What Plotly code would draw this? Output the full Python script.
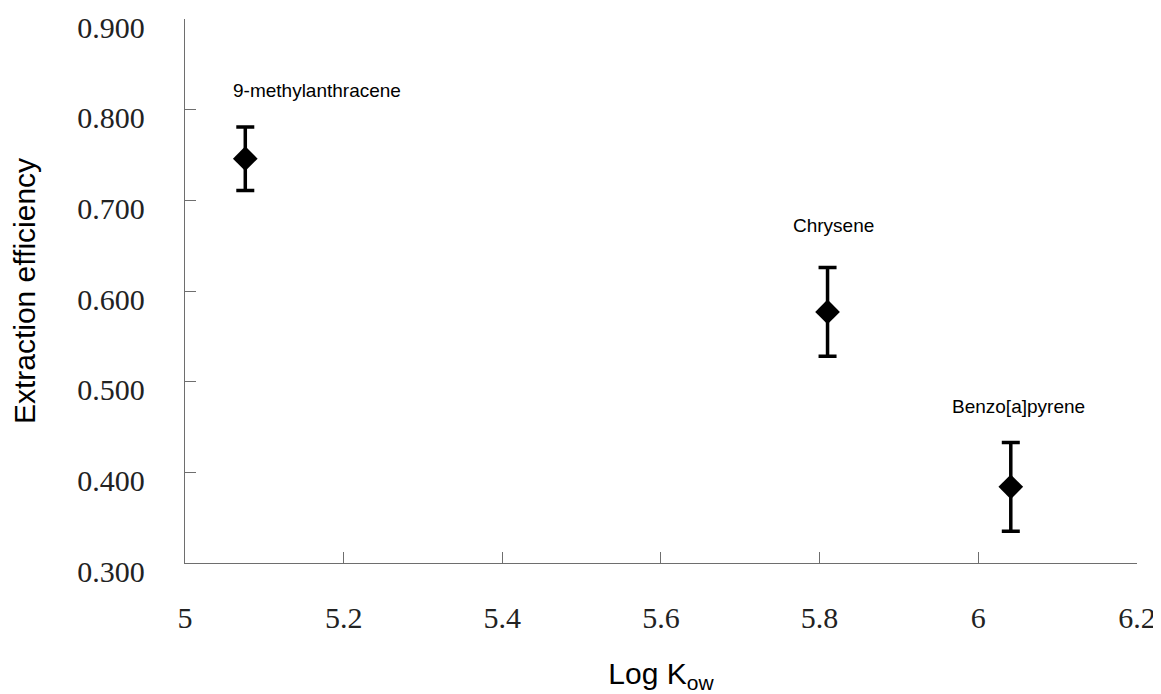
import plotly.graph_objects as go

compounds = ["9-methylanthracene", "Chrysene", "Benzo[a]pyrene"]
log_kow = [5.076, 5.810, 6.041]
efficiency = [0.746, 0.577, 0.384]
err = [0.035, 0.049, 0.049]
x_ticks = [5, 5.2, 5.4, 5.6, 5.8, 6, 6.2]
x_tick_labels = ["5", "5.2", "5.4", "5.6", "5.8", "6", "6.2"]
y_ticks = [0.3, 0.4, 0.5, 0.6, 0.7, 0.8, 0.9]
y_tick_labels = ["0.300", "0.400", "0.500", "0.600", "0.700", "0.800", "0.900"]
label_shift_x = [72, 6, 8]
label_shift_y = [68, 86, 80]

fig = go.Figure()
fig.add_trace(go.Scatter(
    x=log_kow, y=efficiency, mode="markers",
    marker=dict(symbol="diamond", size=19, color="black"),
    error_y=dict(type="data", array=err, visible=True, color="black",
                 thickness=3.5, width=9),
    showlegend=False,
))

for name, xv, yv, dx, dy in zip(compounds, log_kow, efficiency, label_shift_x, label_shift_y):
    fig.add_annotation(x=xv, y=yv, text=name, showarrow=False,
                       xshift=dx, yshift=dy,
                       font=dict(family="Liberation Sans, Arial", size=19, color="black"))

axis_common = dict(showline=True, linecolor="#6e6e6e", linewidth=1.3,
                   ticks="inside", tickcolor="#6e6e6e", ticklen=11, tickwidth=1,
                   showgrid=False, zeroline=False,
                   tickfont=dict(family="Liberation Serif, Times New Roman", size=30, color="#222"))

fig.update_xaxes(range=[5, 6.2001], tickvals=x_ticks, ticktext=x_tick_labels,
                 ticklabelstandoff=28,
                 title=dict(text="Log K<sub>ow</sub>", standoff=44,
                            font=dict(family="Liberation Sans, Arial", size=30, color="black")),
                 **axis_common)
fig.update_yaxes(range=[0.3, 0.9001], tickvals=y_ticks, ticktext=y_tick_labels,
                 ticklabelstandoff=33, ticklabelshift=8,
                 title=dict(text="Extraction efficiency", standoff=34,
                            font=dict(family="Liberation Sans, Arial", size=30, color="black")),
                 **axis_common)

fig.update_layout(width=1153, height=686,
                  margin=dict(l=177, r=24, t=11, b=131, autoexpand=False),
                  plot_bgcolor="white", paper_bgcolor="white")

fig.write_html("out.html")
